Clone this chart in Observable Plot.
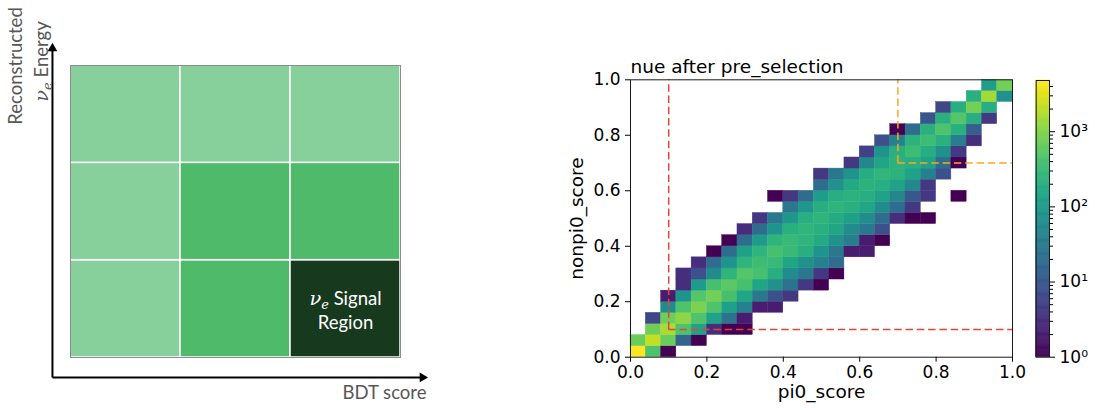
<!DOCTYPE html>
<html><head><meta charset="utf-8">
<script src="https://cdn.jsdelivr.net/npm/d3@7"></script>
<script src="https://cdn.jsdelivr.net/npm/@observablehq/plot@0.6"></script>
<style>
html,body{margin:0;padding:0;background:#fff}
body{width:1095px;height:410px;position:relative;overflow:hidden}
#left{position:absolute;left:0;top:0}
#right{position:absolute;left:560px;top:0}
#cbar{position:absolute;left:1020px;top:0}
svg{overflow:visible}
</style></head><body>
<div id="left"></div><div id="right"></div><div id="cbar"></div>
<script>
// ---------- Left schematic: BDT score x reconstructed energy regions ----------
const bdtBins = [0, 1, 2];
const energyBins = [0, 1, 2];
// level per [energy row (bottom first)][bdt column]
const regionLevels = [
  ["background", "mixed", "signal"],
  ["background", "mixed", "mixed"],
  ["background", "background", "background"]
];
const levelNames = ["background", "mixed", "signal"];
const levelColors = ["#87cf9b", "#4fba6a", "#17391d"];
const signalText = "νₑ Signal\nRegion";
const leftXLabel = "BDT score";
const leftYLabel = ["Reconstructed", "νₑ Energy"];
// axis arrow extents (schematic units)
const axisOrigin = {x: -0.164, y: -0.205};
const axisEnds = {x: 3.2, y: 3.175};

// ---------- Right: 2D histogram ----------
const binWidth = 0.04;
const scoreTicks = [0, 0.2, 0.4, 0.6, 0.8, 1.0];
// [nonpi0 bin, first pi0 bin, counts per consecutive pi0 bin...]
const histRows = [
  [0, 0, 4800, 450, 1],
  [1, 0, 700, 2100, 700, 15, 1],
  [2, 1, 750, 1600, 450, 130, 3, 1, 1],
  [3, 1, 6, 750, 1150, 450, 130, 25, 2],
  [4, 2, 60, 450, 900, 450, 120, 40, 2, 2],
  [5, 2, 2, 80, 500, 800, 400, 150, 30, 8, 4],
  [6, 3, 3, 100, 400, 550, 400, 150, 70, 25, 4, 1],
  [7, 3, 3, 8, 60, 250, 500, 400, 200, 60, 30, 4, 1],
  [8, 4, 3, 20, 80, 250, 350, 300, 150, 70, 40, 20],
  [9, 5, 1, 20, 120, 250, 400, 300, 200, 80, 30, 2, 2],
  [10, 6, 1, 20, 100, 250, 300, 250, 170, 70, 35, 2, 1],
  [11, 7, 3, 20, 80, 220, 260, 220, 150, 60, 30, 8],
  [12, 8, 4, 30, 90, 200, 250, 180, 120, 60, 20, 3, 1, 1],
  [13, 10, 30, 90, 200, 250, 220, 150, 60, 20, 4],
  [14, 9, 1, 4, 20, 110, 200, 230, 200, 130, 50, 10, 4, 0, 1],
  [15, 12, 20, 70, 170, 230, 200, 130, 50, 4],
  [16, 12, 4, 30, 80, 190, 260, 230, 130, 40, 8],
  [17, 14, 4, 50, 150, 230, 200, 130, 20, 1],
  [18, 15, 5, 80, 220, 330, 190, 70, 4],
  [19, 16, 8, 40, 230, 330, 220, 35, 3],
  [20, 17, 1, 20, 220, 450, 220, 12],
  [21, 19, 9, 220, 500, 200, 4],
  [22, 20, 6, 200, 800, 200],
  [23, 22, 220, 1500, 70],
  [24, 23, 110, 800]
];
const colorDomain = [1, 4800];
const cbarMajor = [1, 10, 100, 1000];
const cbarMinor = [2,3,4,5,6,7,8,9,20,30,40,50,60,70,80,90,200,300,400,500,600,700,800,900,2000,3000,4000];
const cutNames = ["pre-selection cut", "signal cut"];
const cutValues = [0.1, 0.7];
const cutColors = ["#e5443a", "#ffa51f"];
const scoreMax = 1.0;
const title = "nue after pre_selection";
const xLabel = "pi0_score";
const yLabel = "nonpi0_score";

// ---------- left plot ----------
const regions = energyBins.flatMap(e => bdtBins.map(b => ({bdt: b, energy: e, level: regionLevels[e][b]})));
const arrows = [
  {x1: axisOrigin.x, y1: axisOrigin.y, x2: axisEnds.x, y2: axisOrigin.y, rot: 90},
  {x1: axisOrigin.x, y1: axisOrigin.y, x2: axisOrigin.x, y2: axisEnds.y, rot: 0}
];
const gray = "#575757";
const left = Plot.plot({
  width: 440, height: 410,
  marginLeft: 70, marginRight: 40, marginTop: 65, marginBottom: 53,
  x: {domain: [0, 3], axis: null},
  y: {domain: [0, 3], axis: null},
  color: {domain: levelNames, range: levelColors},
  style: {fontFamily: "Lato, 'Open Sans', sans-serif", background: "transparent", overflow: "visible"},
  marks: [
    Plot.rect(regions, {x1: "bdt", x2: d => d.bdt + 1, y1: "energy", y2: d => d.energy + 1, fill: "level", stroke: "white", strokeWidth: 1.5}),
    Plot.frame({stroke: "#8c8c8c", strokeWidth: 1}),
    Plot.link(arrows, {x1: "x1", y1: "y1", x2: "x2", y2: "y2", stroke: "black", strokeWidth: 2}),
    Plot.dot(arrows, {x: "x2", y: "y2", symbol: "triangle", r: 3.6, fill: "black", rotate: "rot"}),
    Plot.text([signalText], {x: () => 2.5, y: () => 0.5, fill: "white", fontSize: 18.5, lineHeight: 1.3, textAnchor: "middle", lineAnchor: "middle"}),
    Plot.text([leftXLabel], {frameAnchor: "bottom-right", dx: -16, dy: 41, lineAnchor: "bottom", textAnchor: "middle", fill: gray, fontSize: 18.5}),
    Plot.text([leftYLabel[0]], {frameAnchor: "top-left", dx: -54.5, dy: 0.5, rotate: -90, lineAnchor: "middle", textAnchor: "middle", fill: gray, fontSize: 18.5}),
    Plot.text([leftYLabel[1]], {frameAnchor: "top-left", dx: -28, dy: -4, rotate: -90, lineAnchor: "middle", textAnchor: "middle", fill: gray, fontSize: 18.5})
  ]
});
// render "νₑ" as italic ν with subscript e (text stays real text)
(function styleNu(svg) {
  const ns = "http://www.w3.org/2000/svg";
  svg.querySelectorAll("text, tspan").forEach(el => {
    if (el.children.length) return;
    const t = el.textContent;
    if (!t.includes("νₑ")) return;
    const rest = t.replace("νₑ", "");
    el.textContent = "";
    const nu = document.createElementNS(ns, "tspan");
    nu.textContent = "ν";
    nu.setAttribute("font-style", "italic");
    nu.setAttribute("font-family", "'DejaVu Serif', serif");
    nu.setAttribute("font-size", "1.05em");
    const e = document.createElementNS(ns, "tspan");
    e.textContent = "e";
    e.setAttribute("font-style", "italic");
    e.setAttribute("font-family", "'DejaVu Serif', serif");
    e.setAttribute("font-size", "0.7em");
    e.setAttribute("dy", "4");
    const r = document.createElementNS(ns, "tspan");
    r.textContent = rest;
    r.setAttribute("dy", "-4");
    el.append(nu, e, r);
  });
})(left);
document.getElementById("left").append(left);

// ---------- right plot ----------
const cells = histRows.flatMap(([row, start, ...counts]) =>
  counts.map((c, k) => ({pi0: (start + k) * binWidth, nonpi0: row * binWidth, count: c}))
).filter(d => d.count > 0);
const cuts = cutValues.map((v, i) => ({name: cutNames[i], v, color: cutColors[i]}));
const colorOpts = {type: "log", scheme: "viridis", domain: colorDomain};
const fontR = "'DejaVu Sans', sans-serif";
const dash = "7.5,3.8";
const right = Plot.plot({
  width: 470, height: 410,
  marginLeft: 70, marginRight: 18, marginTop: 79.3, marginBottom: 53.3,
  x: {domain: [0, 1]},
  y: {domain: [0, 1]},
  color: colorOpts,
  style: {fontFamily: fontR, fontSize: "17px", color: "#000", background: "transparent", overflow: "visible"},
  marks: [
    Plot.rect(cells, {x1: "pi0", x2: d => d.pi0 + binWidth, y1: "nonpi0", y2: d => d.nonpi0 + binWidth, fill: "count", stroke: "count", strokeWidth: 0.4}),
    ...cuts.map(c => Plot.ruleX([c], {x: "v", y1: "v", y2: () => scoreMax, stroke: c.color, strokeWidth: 1.5, strokeDasharray: dash})),
    ...cuts.map(c => Plot.ruleY([c], {y: "v", x1: "v", x2: () => scoreMax, stroke: c.color, strokeWidth: 1.5, strokeDasharray: dash})),
    Plot.frame({stroke: "#1a1a1a", strokeWidth: 1}),
    Plot.axisX({ticks: scoreTicks, tickFormat: d3.format(".1f"), tickSize: 5, tickPadding: 4, label: null, fontSize: 17}),
    Plot.axisY({ticks: scoreTicks, tickFormat: d3.format(".1f"), tickSize: 5, tickPadding: 5, label: null, fontSize: 17}),
    Plot.text([title], {frameAnchor: "top-left", dy: -7, lineAnchor: "bottom", textAnchor: "start", fontSize: 18.5}),
    Plot.text([xLabel], {frameAnchor: "bottom", dy: 41, lineAnchor: "bottom", textAnchor: "middle", fontSize: 18.5}),
    Plot.text([yLabel], {frameAnchor: "left", dx: -48, rotate: -90, lineAnchor: "bottom", textAnchor: "middle", fontSize: 18.5})
  ]
});
document.getElementById("right").append(right);

// ---------- colorbar ----------
const nStops = 256;
const logMax = Math.log10(colorDomain[1]);
const stops = d3.range(nStops).map(k => ({
  lo: Math.pow(10, logMax * k / nStops),
  hi: Math.pow(10, logMax * (k + 1) / nStops),
  mid: Math.pow(10, logMax * (k + 0.5) / nStops)
}));
const sup = ["⁰", "¹", "²", "³", "⁴"];
const cbar = Plot.plot({
  width: 75, height: 410,
  marginLeft: 15.7, marginRight: 46, marginTop: 80, marginBottom: 53.3,
  x: {domain: [0, 1], axis: null},
  y: {type: "log", domain: colorDomain},
  color: colorOpts,
  style: {fontFamily: fontR, fontSize: "17px", color: "#000", background: "transparent", overflow: "visible"},
  marks: [
    Plot.rect(stops, {x1: () => 0, x2: () => 1, y1: "lo", y2: "hi", fill: "mid", stroke: "mid", strokeWidth: 0.6}),
    Plot.frame({stroke: "#1a1a1a", strokeWidth: 1}),
    Plot.axisY({anchor: "right", ticks: cbarMajor, tickFormat: d => "10" + sup[Math.round(Math.log10(d))], tickSize: 5, tickPadding: 5, label: null, fontSize: 17}),
    Plot.axisY({anchor: "right", ticks: cbarMinor, tickFormat: () => "", tickSize: 3, label: null})
  ]
});
document.getElementById("cbar").append(cbar);
</script>
</body></html>
